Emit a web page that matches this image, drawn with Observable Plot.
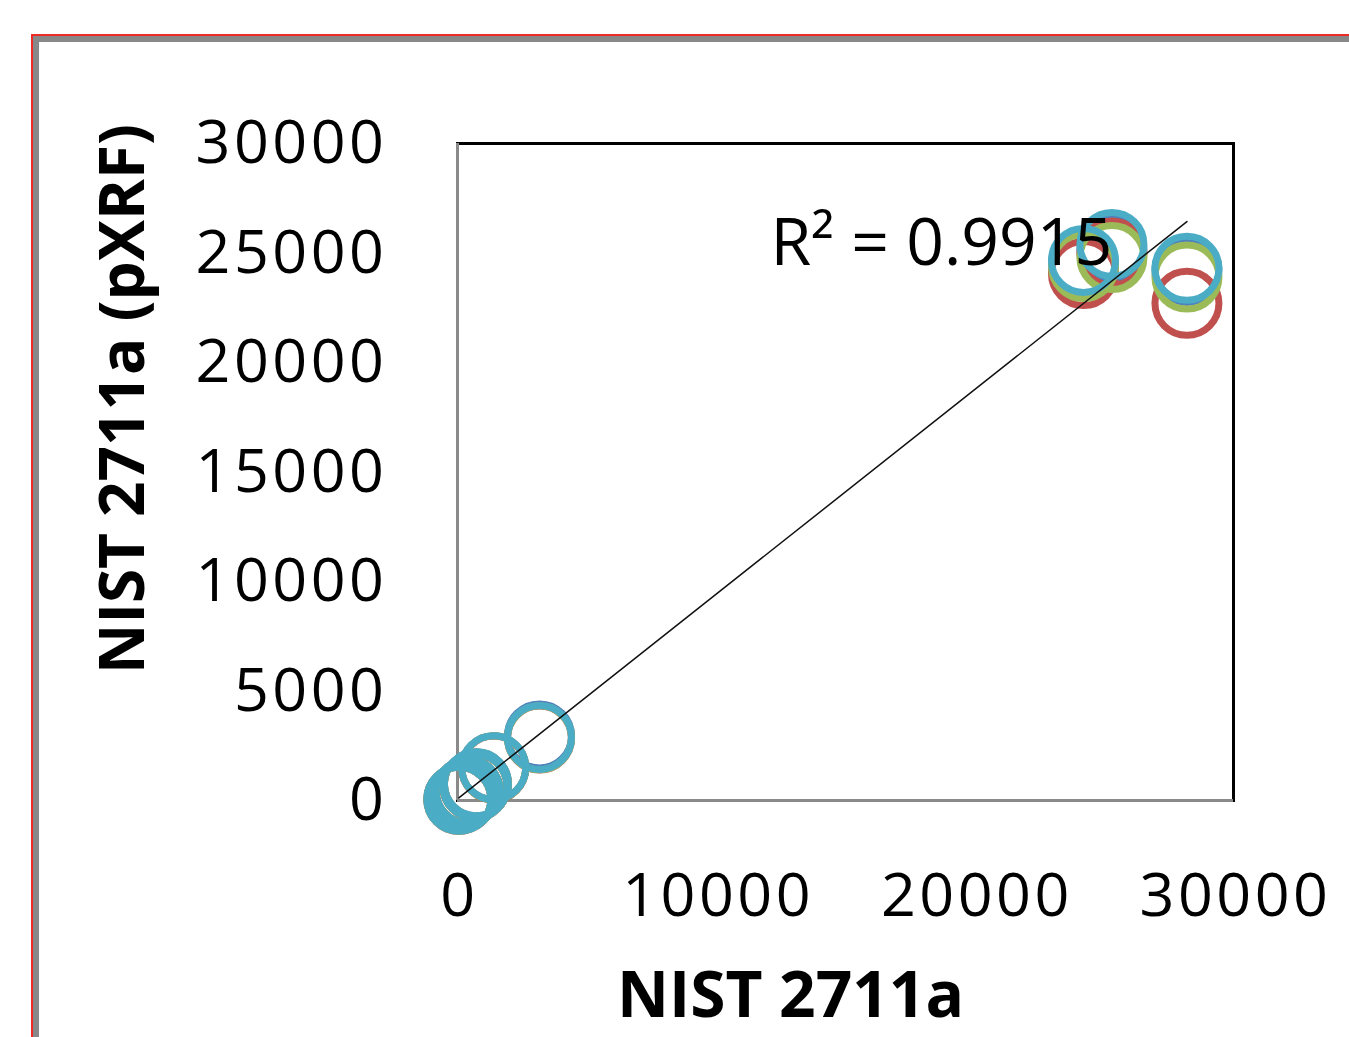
<!DOCTYPE html>
<html>
<head>
<meta charset="utf-8">
<script src="https://cdn.jsdelivr.net/npm/d3@7"></script>
<script src="https://cdn.jsdelivr.net/npm/@observablehq/plot@0.6"></script>
<style>
  html, body { margin: 0; padding: 0; background: #fff; }
  #wrap { position: relative; width: 1349px; height: 1037px; overflow: hidden; background: #fff; }
  #chart { position: absolute; left: 0; top: 0; }
  #chart g[aria-label="y-axis tick label"] text { letter-spacing: 3.5px; }
  #chart g[aria-label="x-axis tick label"] text { letter-spacing: 3.5px; }
  #frameOuter { position: absolute; left: 31px; top: 34px; width: 3000px; height: 3000px;
    border-left: 2px solid #ee2a24; border-top: 2px solid #ee2a24; pointer-events: none; }
  #frameInner { width: 100%; height: 100%; border-left: 6px solid #888888; border-top: 6px solid #888888; }
</style>
</head>
<body>
<div id="wrap">
  <div id="chart"></div>
  <div id="frameOuter"><div id="frameInner"></div></div>
</div>
<script>
// Elements and certified NIST 2711a values (x)
const elements = ["Ca", "K", "Fe", "Ti", "Pb", "Ba", "Mn", "Zn", "Sr", "Cu", "As", "Cr"];
const certified = [24200, 25300, 28200, 3170, 1400, 730, 675, 414, 242, 140, 107, 52];
// pXRF measured values per replicate series (y)
const seriesNames = ["Series 1", "Series 2", "Series 3", "Series 4"];
const seriesColors = ["#4F81BD", "#C0504D", "#9BBB59", "#4BACC6"];
const series1 = [24470, 25160, 24200, 2950, 1500, 760, 650, 430, 250, 120, 100, 60];
const series2 = [24060, 25000, 22700, 2850, 1480, 740, 640, 420, 240, 110, 95, 55];
const series3 = [24380, 24790, 23900, 2860, 1490, 750, 650, 425, 245, 115, 98, 58];
const series4 = [24660, 25390, 24300, 2880, 1500, 760, 655, 430, 250, 120, 100, 60];
const xTicks = [0, 10000, 20000, 30000];
const yTicks = [0, 5000, 10000, 15000, 20000, 25000, 30000];
const r2Label = "R\u00B2 = 0.9915";
const xTitle = "NIST 2711a";
const yTitle = "NIST 2711a (pXRF)";

const allY = [series1, series2, series3, series4];
const points = [];
allY.forEach((ys, si) => {
  ys.forEach((v, i) => points.push({series: seriesNames[si], element: elements[i], x: certified[i], y: v}));
});

const font = "'Open Sans', 'DejaVu Sans', sans-serif";

const plot = Plot.plot({
  width: 1349,
  height: 1037,
  marginLeft: 457,
  marginRight: 116,
  marginTop: 143,
  marginBottom: 237,
  style: {background: "transparent", fontFamily: font, color: "#000"},
  x: {domain: [0, 30000], ticks: xTicks},
  y: {domain: [0, 30000], ticks: yTicks},
  color: {domain: seriesNames, range: seriesColors},
  marks: [
    Plot.frame({stroke: "#000", strokeWidth: 3}),
    Plot.ruleX([0], {stroke: "#8a8a8a", strokeWidth: 3}),
    Plot.ruleY([0], {stroke: "#8a8a8a", strokeWidth: 3}),
    Plot.axisX({ticks: xTicks, tickSize: 0, tickPadding: 72, fontSize: 61, label: null, tickFormat: d => String(d), dx: 2}),
    Plot.axisY({ticks: yTicks, tickSize: 0, tickPadding: 70, fontSize: 61, label: null, tickFormat: d => String(d)}),
    Plot.dot(points, {x: "x", y: "y", stroke: "series", r: 32, strokeWidth: 7, fill: "none"}),
    Plot.linearRegressionY(points, {x: "x", y: "y", stroke: "#111", strokeWidth: 1.5, ci: 0}),
    Plot.text([r2Label], {x: 12100, y: 25430, text: d => d, textAnchor: "start", fontSize: 66, fill: "#000"}),
    Plot.text([xTitle], {frameAnchor: "bottom", dx: -55, dy: 216, text: d => d, fontSize: 64, fontWeight: "bold", fill: "#000"}),
    Plot.text([yTitle], {frameAnchor: "left", textAnchor: "middle", dx: -333, dy: -73, rotate: -90, text: d => d, fontSize: 62, fontWeight: "bold", fill: "#000"})
  ]
});
document.getElementById("chart").appendChild(plot);
</script>
</body>
</html>
